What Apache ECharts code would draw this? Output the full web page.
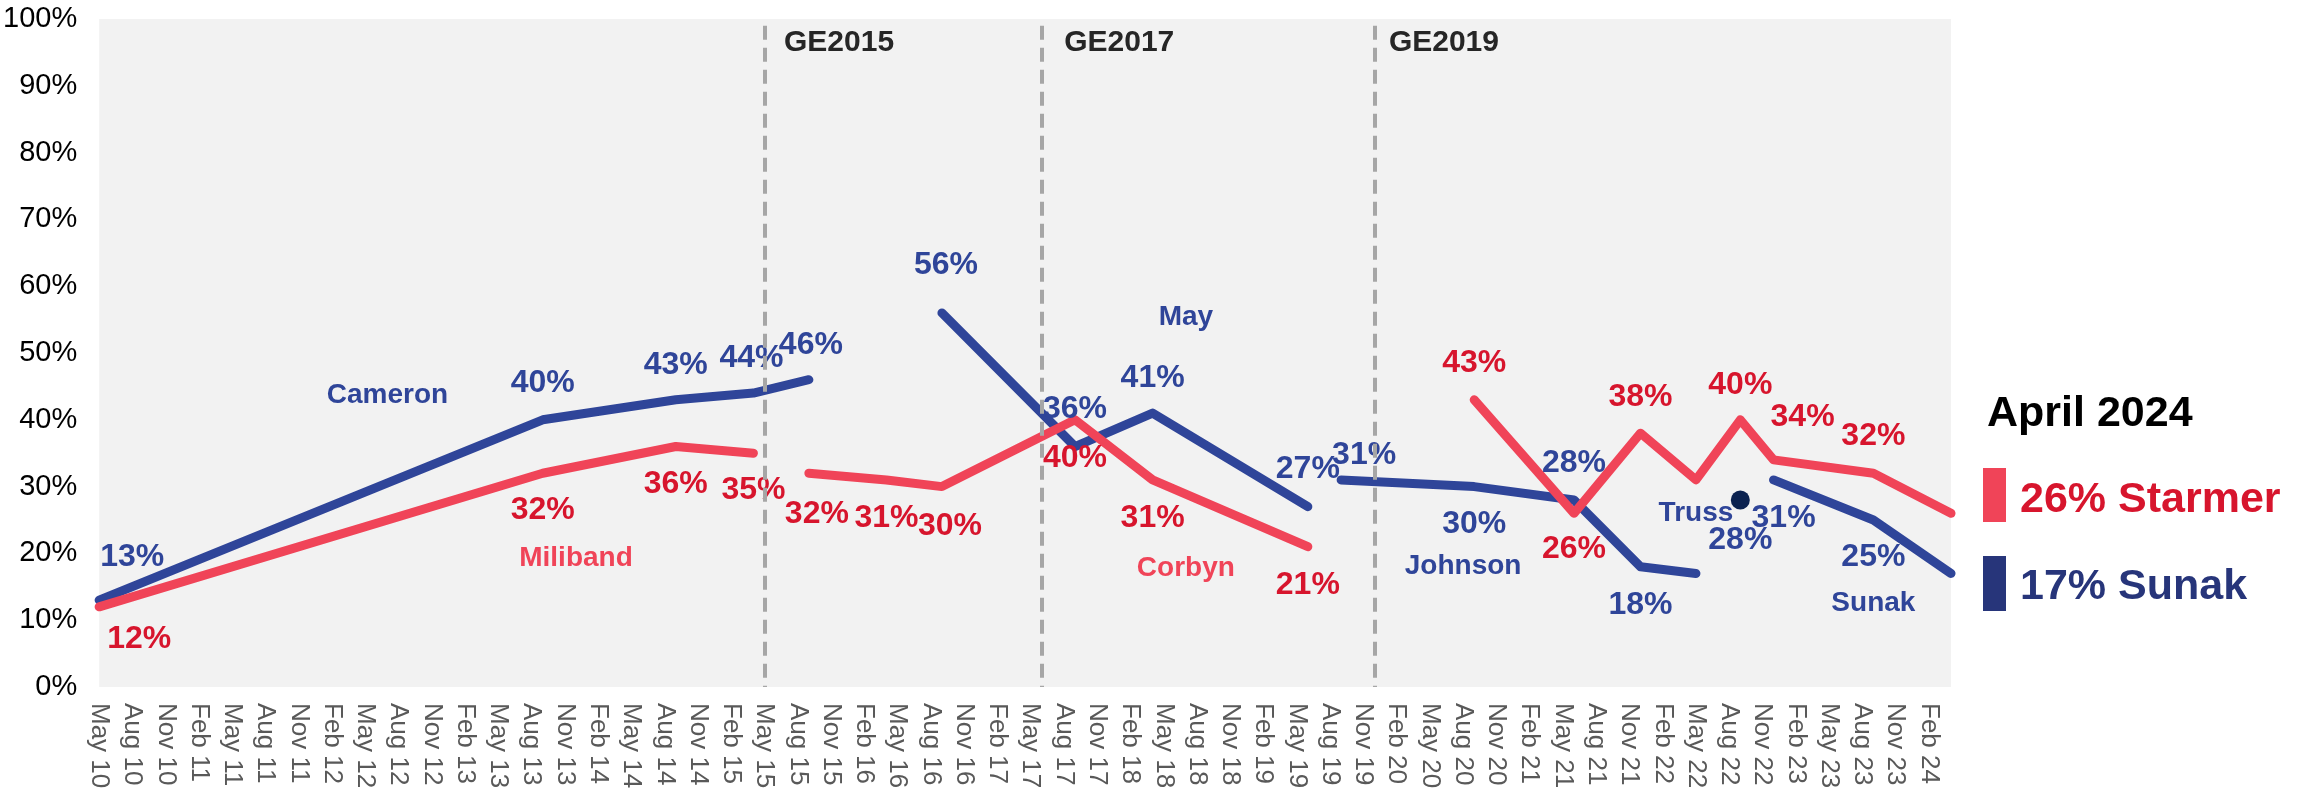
<!DOCTYPE html>
<html>
<head>
<meta charset="utf-8">
<title>Leader ratings 2010-2024</title>
<script src="https://cdn.jsdelivr.net/npm/echarts/dist/echarts.min.js"></script>
<style>
  html, body { margin: 0; padding: 0; background: #fff; }
  #chart { width: 2308px; height: 792px; }
</style>
</head>
<body>
<div id="chart"></div>
<script>
// monthly category axis, May 10 .. Apr 24 (labels shown every 3rd month)
const monthNames = ['Jan', 'Feb', 'Mar', 'Apr', 'May', 'Jun', 'Jul', 'Aug', 'Sep', 'Oct', 'Nov', 'Dec']
const startMonth = 4 // May
const startYear = 10
const monthCount = 168
const categories = []
for (let i = 0; i < monthCount; i++) {
  const m = startMonth + i
  categories.push(monthNames[m % 12] + ' ' + (startYear + Math.floor(m / 12)))
}

// Conservative leaders
const cameron = [['May 10', 13], ['Sep 13', 40], ['Sep 14', 43], ['Apr 15', 44], ['Sep 15', 46]]
const may = [['Sep 16', 56], ['Sep 17', 36], ['Apr 18', 41], ['Jun 19', 27]]
const johnson = [['Sep 19', 31], ['Sep 20', 30], ['Jun 21', 28], ['Dec 21', 18], ['May 22', 17]]
const truss = [['Sep 22', 28]]
const sunak = [['Dec 22', 31], ['Sep 23', 25], ['Apr 24', 17]]
// Labour leaders
const miliband = [['May 10', 12], ['Sep 13', 32], ['Sep 14', 36], ['Apr 15', 35]]
const corbyn = [['Sep 15', 32], ['Apr 16', 31], ['Sep 16', 30], ['Sep 17', 40], ['Apr 18', 31], ['Jun 19', 21]]
const starmer = [['Sep 20', 43], ['Jun 21', 26], ['Dec 21', 38], ['May 22', 31], ['Sep 22', 40], ['Dec 22', 34], ['Sep 23', 32], ['Apr 24', 26]]

const elections = [['May 15', 'GE2015'], ['Jun 17', 'GE2017'], ['Dec 19', 'GE2019']]
const latestMonth = 'April 2024'

// label placement (pixel offsets from each point, null = no label)
const labelOffsets = {
  cameron: [[33, -43], [0, -37], [0, -35], [-2, -35], [2, -35]],
  may: [[4, -48], [0, -37], [0, -35], [0, -37]],
  johnson: [[23, -25], [0, 38], [0, -37], [0, 38], null],
  truss: [[0, 40]],
  sunak: [[10, 38], [0, 37], null],
  miliband: [[40, 32], [0, 37], [0, 38], [0, 37]],
  corbyn: [[8, 41], [0, 38], [8, 40], [0, 38], [0, 38], [0, 38]],
  starmer: [[0, -37], [0, 36], [0, -36], null, [0, -35], [29, -43], [0, -37], null]
}
// where the leader names sit, in axis units
const nameAnchors = {
  Cameron: ['Jul 12', 43.7],
  May: ['Jul 18', 55.4],
  Johnson: ['Aug 20', 18],
  Truss: ['May 22', 26],
  Sunak: ['Sep 23', 12.6],
  Miliband: ['Dec 13', 19.3],
  Corbyn: ['Jul 18', 17.8]
}
const electionLabelGap = [19, 22, 14]

const BLUE = '#2F4599'
const RED_LINE = '#F04458'
const RED_TEXT = '#D7152D'
const NAVY = '#27357A'
const FONT = "'Liberation Sans', Arial, sans-serif"

function pointsWithLabels(data, offsets, textColor) {
  return data.map((d, i) => {
    const off = offsets[i]
    return {
      value: d,
      label: off ? {
        show: true,
        position: 'inside',
        offset: off,
        formatter: p => p.value[1] + '%',
        color: textColor,
        fontSize: 32,
        fontWeight: 'bold',
        fontFamily: FONT
      } : { show: false }
    }
  })
}

function nameMark(name, color) {
  return {
    symbol: 'circle',
    symbolSize: 1,
    silent: true,
    itemStyle: { color: 'transparent' },
    label: {
      show: true,
      position: 'inside',
      formatter: name,
      color: color,
      fontSize: 28,
      fontWeight: 'bold',
      fontFamily: FONT
    },
    data: [{ coord: nameAnchors[name] }]
  }
}

function leaderSeries(name, data, offsets, lineColor, textColor, nameColor) {
  return {
    name: name,
    type: 'line',
    data: pointsWithLabels(data, offsets, textColor),
    symbol: 'circle',
    symbolSize: 1,
    showSymbol: true,
    itemStyle: { color: lineColor },
    lineStyle: { color: lineColor, width: 9, cap: 'round', join: 'round' },
    markPoint: nameMark(name, nameColor),
    z: 3
  }
}

const chart = echarts.init(document.getElementById('chart'))
chart.setOption({
  animation: false,
  grid: {
    left: 99,
    right: 357,
    top: 19,
    bottom: 105,
    show: true,
    backgroundColor: '#F2F2F2',
    borderWidth: 0
  },
  xAxis: {
    type: 'category',
    data: categories,
    boundaryGap: false,
    axisLine: { show: false },
    axisTick: { show: false },
    axisLabel: {
      interval: 2,
      rotate: -90,
      margin: 16,
      color: '#595959',
      fontSize: 26,
      fontFamily: FONT
    },
    splitLine: { show: false }
  },
  yAxis: {
    type: 'value',
    min: 0,
    max: 100,
    interval: 10,
    axisLine: { show: false },
    axisTick: { show: false },
    splitLine: { show: false },
    axisLabel: {
      formatter: '{value}%',
      color: '#000',
      fontSize: 29,
      margin: 22,
      fontFamily: FONT
    }
  },
  series: [
    {
      name: 'elections',
      type: 'line',
      data: [],
      silent: true,
      markLine: {
        symbol: ['none', 'none'],
        silent: true,
        label: { show: false },
        lineStyle: { color: '#A6A6A6', width: 4, type: [14, 8] },
        data: elections.map(e => [{ coord: [e[0], 99] }, { coord: [e[0], 0] }])
      },
      markPoint: {
        symbol: 'circle',
        symbolSize: 1,
        silent: true,
        itemStyle: { color: 'transparent' },
        data: elections.map((e, i) => ({
          coord: [e[0], 96.4],
          label: {
            show: true,
            position: 'right',
            distance: electionLabelGap[i],
            formatter: e[1],
            color: '#262626',
            fontSize: 30,
            fontWeight: 'bold',
            fontFamily: FONT
          }
        }))
      }
    },
    leaderSeries('Cameron', cameron, labelOffsets.cameron, BLUE, BLUE, BLUE),
    leaderSeries('May', may, labelOffsets.may, BLUE, BLUE, BLUE),
    leaderSeries('Johnson', johnson, labelOffsets.johnson, BLUE, BLUE, BLUE),
    leaderSeries('Sunak', sunak, labelOffsets.sunak, BLUE, BLUE, BLUE),
    {
      name: 'Truss',
      type: 'scatter',
      data: pointsWithLabels(truss, labelOffsets.truss, BLUE),
      symbolSize: 19,
      itemStyle: { color: '#0B2250', opacity: 1 },
      markPoint: nameMark('Truss', BLUE),
      z: 4
    },
    leaderSeries('Miliband', miliband, labelOffsets.miliband, RED_LINE, RED_TEXT, RED_LINE),
    leaderSeries('Corbyn', corbyn, labelOffsets.corbyn, RED_LINE, RED_TEXT, RED_LINE),
    leaderSeries('Starmer', starmer, labelOffsets.starmer, RED_LINE, RED_TEXT, RED_LINE)
  ],
  graphic: [
    {
      type: 'text',
      left: 1987,
      top: 393,
      style: { text: latestMonth, fontSize: 43, fontWeight: 'bold', fontFamily: FONT, fill: '#000' }
    },
    {
      type: 'rect',
      shape: { x: 1983, y: 468, width: 23, height: 54 },
      style: { fill: RED_LINE }
    },
    {
      type: 'text',
      left: 2020,
      top: 479,
      style: { text: starmer[starmer.length - 1][1] + '% Starmer', fontSize: 43, fontWeight: 'bold', fontFamily: FONT, fill: RED_TEXT }
    },
    {
      type: 'rect',
      shape: { x: 1983, y: 556, width: 23, height: 55 },
      style: { fill: NAVY }
    },
    {
      type: 'text',
      left: 2020,
      top: 566,
      style: { text: sunak[sunak.length - 1][1] + '% Sunak', fontSize: 43, fontWeight: 'bold', fontFamily: FONT, fill: NAVY }
    }
  ]
})
</script>
</body>
</html>
